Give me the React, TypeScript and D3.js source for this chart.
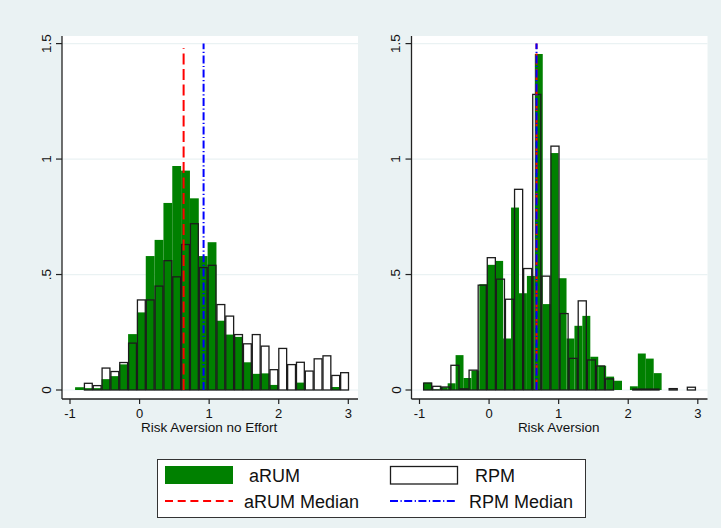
import React from 'react';
import * as d3 from 'd3';

// histogram bins (density units)
const LEFT_RPM_START = -0.8;
const LEFT_RPM_WIDTH = 0.127;
const LEFT_RPM = [0.029, 0.019, 0.095, 0.08, 0.119, 0.203, 0.39, 0.39, 0.45, 0.56, 0.49, 0.63, 0.72, 0.53, 0.54, 0.37, 0.32, 0.24, 0.2, 0.24, 0.19, 0.088, 0.18, 0.11, 0.12, 0.082, 0.135, 0.148, 0.063, 0.075];

const LEFT_ARUM_START = -0.927;
const LEFT_ARUM_WIDTH = 0.127;
const LEFT_ARUM = [0.012, 0.008, 0.008, 0.047, 0.06, 0.111, 0.242, 0.336, 0.58, 0.65, 0.81, 0.97, 0.95, 0.83, 0.58, 0.64, 0.3, 0.24, 0.23, 0.12, 0.07, 0.072, 0.022, 0, 0, 0.032, 0, 0, 0, 0.013];

const RIGHT_RPM_START = -0.948;
const RIGHT_RPM_WIDTH = 0.1307;
const RIGHT_RPM = [0.03, 0.016, 0.013, 0.107, 0.005, 0.086, 0.454, 0.573, 0.48, 0.393, 0.869, 0.526, 1.28, 0.493, 1.056, 0.331, 0.137, 0.386, 0.13, 0.104, 0.048, 0, 0, 0.004, 0.004, 0.004, 0, 0.006, 0, 0.012];

const RIGHT_ARUM_START = -0.937;
const RIGHT_ARUM_WIDTH = 0.1139;
const RIGHT_ARUM = [0.032, 0.003, 0.012, 0.029, 0.151, 0.052, 0.084, 0.458, 0.542, 0.559, 0.223, 0.79, 0.419, 0.494, 1.455, 0.372, 1.026, 0.484, 0.223, 0.278, 0.321, 0.144, 0.105, 0.058, 0.04, 0, 0.016, 0.158, 0.136, 0.073];

// medians: [aRUM, RPM]
const LEFT_MEDIANS = [0.633, 0.92];
const RIGHT_MEDIANS = [0.682, 0.682];
const LEFT_MEDIAN_TOPS = [1.48, 1.5];
const RIGHT_MEDIAN_TOPS = [1.5, 1.5];

const X_TICKS = [-1, 0, 1, 2, 3];
const Y_TICKS = [0, 0.5, 1, 1.5];
const Y_TICK_LABELS = ['0', '.5', '1', '1.5'];

const LEGEND_LABELS = ['aRUM', 'RPM', 'aRUM Median', 'RPM Median'];

const BG = '#eaf2f3';
const GREEN = '#008000';
const FONT = '"Liberation Sans", Arial, Helvetica, sans-serif';

function Panel({ left, title, rpm, rpmStart, rpmW, arum, arumStart, arumW, medians, medianTops }) {
  const px0 = left, px1 = left + 296;
  const top = 36, bottom = 399;
  const x = d3.scaleLinear().domain([-1, 3]).range([left + 8, left + 286.3]);
  const y = d3.scaleLinear().domain([0, 1.5]).range([390, 43.6]);

  const bars = (vals, start, w) => vals.map((v, i) => {
    const a = x(start + i * w), b = x(start + (i + 1) * w);
    return { x: a, w: b - a, y: y(v), h: y(0) - y(v), v };
  });

  return (
    <g>
      <rect x={px0} y={top} width={px1 - px0} height={bottom - top} fill="#fff" />
      {Y_TICKS.map(t => (
        <line key={t} x1={px0} x2={px1} y1={y(t)} y2={y(t)} stroke={BG} strokeWidth={1.2} />
      ))}
      {bars(arum, arumStart, arumW).filter(d => d.v > 0).map((d, i) => (
        <rect key={'a' + i} x={d.x} y={d.y} width={d.w} height={d.h} fill={GREEN} />
      ))}
      {bars(rpm, rpmStart, rpmW).filter(d => d.v > 0).map((d, i) => (
        <rect key={'r' + i} x={d.x + 0.5} y={d.y} width={d.w - 1} height={d.h}
          fill="none" stroke="#1c1c1c" strokeWidth={1.3} />
      ))}
      <line x1={x(medians[0])} x2={x(medians[0])} y1={y(0)} y2={y(medianTops[0])}
        stroke="#ff0000" strokeWidth={2} strokeDasharray="11,4.5" />
      <line x1={x(medians[1])} x2={x(medians[1])} y1={y(0)} y2={y(medianTops[1])}
        stroke="#0000ff" strokeWidth={2} strokeDasharray="8,2.5,1.2,2.5" />
      {/* axes */}
      <line x1={px0} x2={px0} y1={top} y2={bottom} stroke="#222" strokeWidth={1.3} />
      <line x1={px0} x2={px1} y1={bottom} y2={bottom} stroke="#222" strokeWidth={1.3} />
      {Y_TICKS.map((t, i) => (
        <g key={t}>
          <line x1={px0 - 6} x2={px0} y1={y(t)} y2={y(t)} stroke="#222" strokeWidth={1.2} />
          <text x={px0 - 11} y={y(t)} transform={`rotate(-90, ${px0 - 11}, ${y(t)})`}
            textAnchor="middle" fontSize={13.5} fontFamily={FONT} fill="#111">{Y_TICK_LABELS[i]}</text>
        </g>
      ))}
      {X_TICKS.map(t => (
        <g key={t}>
          <line x1={x(t)} x2={x(t)} y1={bottom} y2={bottom + 5} stroke="#222" strokeWidth={1.2} />
          <text x={x(t)} y={417.5} textAnchor="middle" fontSize={13} fontFamily={FONT} fill="#111">{t}</text>
        </g>
      ))}
      <text x={x(1)} y={431.5} textAnchor="middle" fontSize={13.5} fontFamily={FONT} fill="#111">{title}</text>
    </g>
  );
}

export default function App() {
  const W = 721, H = 528;
  return (
    <div style={{ position: 'absolute', left: 0, top: 0 }}>
      <svg width={W} height={H} style={{ display: 'block' }}>
        <rect width={W} height={H} fill={BG} />
        <Panel left={62} title="Risk Aversion no Effort"
          rpm={LEFT_RPM} rpmStart={LEFT_RPM_START} rpmW={LEFT_RPM_WIDTH}
          arum={LEFT_ARUM} arumStart={LEFT_ARUM_START} arumW={LEFT_ARUM_WIDTH}
          medians={LEFT_MEDIANS} medianTops={LEFT_MEDIAN_TOPS} />
        <Panel left={411.5} title="Risk Aversion"
          rpm={RIGHT_RPM} rpmStart={RIGHT_RPM_START} rpmW={RIGHT_RPM_WIDTH}
          arum={RIGHT_ARUM} arumStart={RIGHT_ARUM_START} arumW={RIGHT_ARUM_WIDTH}
          medians={RIGHT_MEDIANS} medianTops={RIGHT_MEDIAN_TOPS} />
        {/* legend */}
        <g fontFamily={FONT} fontSize={18} fill="#111">
          <rect x={157.5} y={459.5} width={428} height={58} fill="#fff" stroke="#333" strokeWidth={1} />
          <rect x={165} y={466} width={68} height={18} fill={GREEN} />
          <text x={249} y={482}>{LEGEND_LABELS[0]}</text>
          <rect x={390.5} y={466.5} width={67} height={17.5} fill="none" stroke="#1c1c1c" strokeWidth={1.3} />
          <text x={475} y={482}>{LEGEND_LABELS[1]}</text>
          <line x1={165} x2={233} y1={501} y2={501} stroke="#ff0000" strokeWidth={2} strokeDasharray="8,4.7" />
          <text x={244} y={507.5}>{LEGEND_LABELS[2]}</text>
          <line x1={390} x2={457} y1={501} y2={501} stroke="#0000ff" strokeWidth={2} strokeDasharray="8,2.5,1.2,2.5" />
          <text x={469} y={507.5}>{LEGEND_LABELS[3]}</text>
        </g>
      </svg>
    </div>
  );
}
